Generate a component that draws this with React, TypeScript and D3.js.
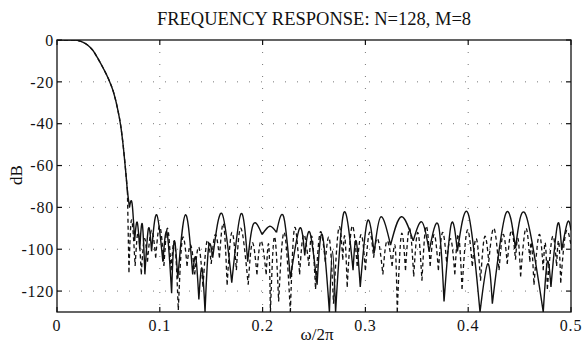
import React, { useRef, useEffect } from "react";
import * as d3 from "d3";

// x ticks / y ticks
const xTicks = [0, 0.1, 0.2, 0.3, 0.4, 0.5];
const yTicks = [0, -20, -40, -60, -80, -100, -120];

// main lobe (shared by both curves)
const mainLobe: [number, number][] = [
  [0, 0], [0.016, 0], [0.02, -0.2], [0.025, -1], [0.03, -2.5], [0.035, -5], [0.04, -9],
  [0.045, -13.5], [0.05, -18.5], [0.055, -25], [0.059, -33], [0.062, -41], [0.0645, -51],
  [0.0665, -61], [0.0685, -72], [0.0705, -80],
];

// solid curve sidelobes: nulls and peaks
const solidLobes: [number, number][] = [
  [0.0705, -80], [0.073, -78], [0.0755, -96], [0.078, -87], [0.0805, -100], [0.083, -88],
  [0.0855, -112], [0.089, -90], [0.092, -101], [0.097, -83.5], [0.103, -106], [0.107, -92],
  [0.1115, -121], [0.114, -96], [0.1175, -114], [0.125, -83.5], [0.132, -112], [0.135, -104],
  [0.138, -124], [0.141, -109], [0.144, -130], [0.1475, -99], [0.1515, -104], [0.1605, -83],
  [0.17, -116], [0.179, -83], [0.1855, -106], [0.191, -88], [0.1995, -93], [0.207, -89],
  [0.2135, -92], [0.2205, -84.5], [0.227, -114], [0.236, -90], [0.241, -103], [0.246, -92],
  [0.253, -117], [0.258, -93], [0.265, -130], [0.268, -101], [0.271, -130], [0.279, -82.5],
  [0.288, -110], [0.291, -96], [0.295, -118], [0.302, -86.5], [0.3085, -102], [0.315, -84.5],
  [0.3245, -98], [0.335, -84.5], [0.3465, -96], [0.355, -87], [0.362, -101], [0.371, -88.5],
  [0.3765, -125], [0.3835, -88], [0.3895, -101], [0.4, -83], [0.4115, -130], [0.419, -107],
  [0.4235, -126], [0.4365, -83], [0.446, -99.5], [0.456, -83.5], [0.473, -130], [0.477, -106],
  [0.4805, -118], [0.487, -88], [0.491, -100.5], [0.4967, -87], [0.5, -91],
];

// dashed curve sidelobes
const dashedLobes: [number, number][] = [
  [0.0685, -72], [0.07, -111], [0.0725, -86], [0.076, -108], [0.079, -92], [0.082, -112],
  [0.085, -95], [0.088, -106], [0.092, -91], [0.096, -104], [0.1, -89], [0.104, -108],
  [0.1075, -90], [0.111, -110], [0.1145, -97], [0.118, -129], [0.122, -95], [0.1265, -108],
  [0.13, -98], [0.134, -112], [0.138, -99], [0.142, -118], [0.146, -96], [0.15, -107],
  [0.154, -93], [0.158, -104], [0.162, -88], [0.1655, -117], [0.17, -92], [0.1745, -110],
  [0.179, -90], [0.186, -117], [0.19, -97], [0.1945, -112], [0.1985, -96], [0.2035, -112],
  [0.206, -98], [0.2076, -130], [0.2115, -94], [0.2156, -125], [0.221, -92], [0.227, -130],
  [0.231, -90], [0.236, -112], [0.24, -93], [0.245, -108], [0.248, -94], [0.2515, -119],
  [0.256, -92], [0.261, -106], [0.265, -95], [0.269, -126], [0.274, -90], [0.278, -105],
  [0.28, -94], [0.2823, -118], [0.287, -89], [0.292, -108], [0.296, -93], [0.3, -110],
  [0.304, -92], [0.308, -104], [0.312, -95], [0.317, -112], [0.321, -96], [0.326, -108],
  [0.329, -99], [0.331, -130], [0.335, -93], [0.339, -110], [0.343, -90], [0.347, -113],
  [0.351, -92], [0.355, -115], [0.359, -89], [0.363, -108], [0.367, -93], [0.371, -110],
  [0.375, -92], [0.379, -106], [0.383, -95], [0.387, -112], [0.3905, -93], [0.394, -119],
  [0.399, -91], [0.404, -108], [0.408, -95], [0.412, -115], [0.416, -94], [0.42, -106],
  [0.425, -90], [0.43, -110], [0.434, -93], [0.438, -107], [0.442, -91], [0.446, -105],
  [0.4485, -95], [0.451, -113], [0.456, -90], [0.46, -106], [0.4615, -97], [0.464, -117],
  [0.469, -93], [0.473, -110], [0.475, -97], [0.477, -119], [0.482, -94], [0.486, -108],
  [0.488, -96], [0.49, -116], [0.495, -92], [0.5, -98],
];

const W = 583;
const H = 345;
const margin = { top: 40, right: 12, bottom: 33, left: 57 };
const FONT = "'Liberation Serif', 'Times New Roman', serif";

// split at local minima so each lobe is drawn as its own arc
function lobePath(pts: [number, number][], line: d3.Line<[number, number]>) {
  const cuts = [0];
  for (let i = 1; i < pts.length - 1; i++) {
    if (pts[i][1] < pts[i - 1][1] && pts[i][1] < pts[i + 1][1]) cuts.push(i);
  }
  cuts.push(pts.length - 1);
  let d = "";
  for (let k = 0; k < cuts.length - 1; k++) {
    d += line(pts.slice(cuts[k], cuts[k + 1] + 1)) || "";
  }
  return d;
}

const App = () => {
  const svgRef = useRef<SVGSVGElement>(null);

  useEffect(() => {
    const svg = d3.select(svgRef.current);
    svg.selectAll("*").remove();

    const x = d3.scaleLinear().domain([0, 0.5]).range([margin.left, W - margin.right]);
    const y = d3.scaleLinear().domain([-130, 0]).range([H - margin.bottom, margin.top]);
    const x0 = x(0), x1 = x(0.5), y0 = y(-130), y1 = y(0);

    svg.append("defs").append("clipPath").attr("id", "plot")
      .append("rect").attr("x", x0).attr("y", y1).attr("width", x1 - x0).attr("height", y0 - y1);

    // dotted grid
    const grid = svg.append("g").attr("stroke", "#777").attr("stroke-width", 1)
      .attr("stroke-dasharray", "1,11");
    xTicks.slice(1, -1).forEach((t) => {
      grid.append("line").attr("x1", x(t)).attr("x2", x(t)).attr("y1", y1).attr("y2", y0);
    });
    yTicks.slice(1).forEach((t) => {
      grid.append("line").attr("x1", x0).attr("x2", x1).attr("y1", y(t)).attr("y2", y(t));
    });

    // curves
    const lineMain = d3.line<[number, number]>().x((d) => x(d[0])).y((d) => y(d[1])).curve(d3.curveMonotoneX);
    const lineLobe = d3.line<[number, number]>().x((d) => x(d[0])).y((d) => y(d[1])).curve(d3.curveNatural);

    const curves = svg.append("g").attr("clip-path", "url(#plot)").attr("fill", "none").attr("stroke", "#111");

    curves.append("path")
      .attr("d", lineMain(mainLobe.filter((d) => d[0] <= 0.0685)) + lobePath(dashedLobes, lineLobe))
      .attr("stroke-width", 1.3)
      .attr("stroke-dasharray", "4,3");

    curves.append("path")
      .attr("d", lineMain(mainLobe) + lobePath(solidLobes, lineLobe))
      .attr("stroke-width", 1.4);

    // frame
    svg.append("rect").attr("x", x0).attr("y", y1).attr("width", x1 - x0).attr("height", y0 - y1)
      .attr("fill", "none").attr("stroke", "#111").attr("stroke-width", 1.3);

    // inward ticks on all sides
    const tk = 5;
    const ticks = svg.append("g").attr("stroke", "#111").attr("stroke-width", 1.2);
    xTicks.forEach((t) => {
      ticks.append("line").attr("x1", x(t)).attr("x2", x(t)).attr("y1", y0).attr("y2", y0 - tk);
      ticks.append("line").attr("x1", x(t)).attr("x2", x(t)).attr("y1", y1).attr("y2", y1 + tk);
    });
    yTicks.forEach((t) => {
      ticks.append("line").attr("x1", x0).attr("x2", x0 + tk).attr("y1", y(t)).attr("y2", y(t));
      ticks.append("line").attr("x1", x1).attr("x2", x1 - tk).attr("y1", y(t)).attr("y2", y(t));
    });

    const labels = svg.append("g").attr("font-family", FONT).attr("font-size", 16).attr("fill", "#111");
    xTicks.forEach((t) => {
      labels.append("text").attr("x", x(t)).attr("y", 331).attr("text-anchor", "middle")
        .attr("letter-spacing", 0.8).text(String(t));
    });
    yTicks.forEach((t) => {
      labels.append("text").attr("x", x0 - 3).attr("y", y(t)).attr("dy", "0.36em")
        .attr("text-anchor", "end").attr("letter-spacing", 0.8).text(String(t));
    });

    labels.append("text").attr("x", 314).attr("y", 25).attr("text-anchor", "middle")
      .attr("font-size", 18.5).text("FREQUENCY RESPONSE: N=128, M=8");
    labels.append("text").attr("x", 317).attr("y", 340).attr("text-anchor", "middle")
      .attr("font-size", 17).text("ω/2π");
    labels.append("text").attr("transform", "translate(22,175) rotate(-90)")
      .attr("text-anchor", "middle").attr("font-size", 17).text("dB");
  }, []);

  return (
    <svg ref={svgRef} width={W} height={H}
      style={{ position: "absolute", left: 0, top: 0, background: "#fff" }} />
  );
};

export default App;
